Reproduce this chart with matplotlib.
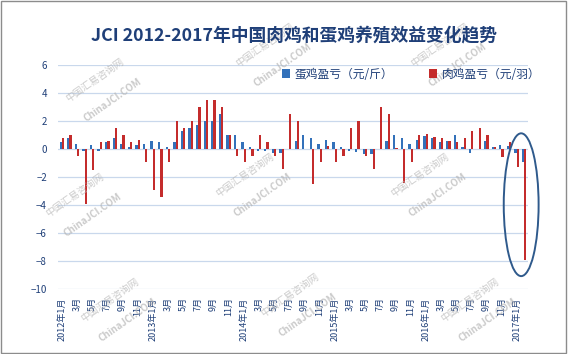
import numpy as np
import matplotlib
matplotlib.use('Agg')
import matplotlib.pyplot as plt
from matplotlib.patches import Ellipse, Rectangle

plt.rcParams['font.family'] = ['Noto Sans CJK SC', 'DejaVu Sans']

# 2012年1月 - 2017年2月, 每月数据
egg = [0.52, 0.8, 0.33, -0.16, 0.3, -0.16, 0.52, 0.8, 0.38, 0.16, 0.3, 0.38,
       0.6, 0.52, 0.16, 0.52, 1.3, 1.5, 1.72, 2.0, 2.0, 2.5, 1.03, 1.03,
       0.52, 0.16, -0.16, -0.12, -0.26, -0.26, 0.0, 0.6, 1.03, 0.8, 0.38, 0.66,
       0.52, 0.16, -0.14, -0.19, -0.35, -0.35, 0.0, 0.6, 1.03, 0.8, 0.38, 0.66,
       0.96, 0.8, 0.52, 0.6, 1.03, 0.16, -0.3, 0.0, 0.6, 0.14, 0.3, 0.23,
       -0.3, -0.94]
broiler = [0.8, 1.03, -0.47, -3.95, -1.48, 0.52, 0.6, 1.5, 1.03, 0.52, 0.66, -0.94,
           -2.96, -3.46, -0.94, 2.0, 1.5, 2.0, 3.0, 3.48, 3.48, 3.0, 1.03, -0.47,
           -0.94, -0.47, 1.03, 0.52, -0.47, -1.45, 2.5, 2.0, 0.0, -2.48, -0.94, 0.23,
           -0.94, -0.47, 1.5, 2.0, -0.47, -1.46, 3.0, 2.5, 0.05, -2.45, -0.94, 1.03,
           1.08, 0.87, 0.8, 0.6, 0.52, 0.8, 1.3, 1.5, 1.03, 0.14, -0.54, 0.52,
           -1.3, -7.93]
tick_labels = ['2012年1月', '3月', '5月', '7月', '9月', '11月',
               '2013年1月', '3月', '5月', '7月', '9月', '11月',
               '2014年1月', '3月', '5月', '7月', '9月', '11月',
               '2015年1月', '3月', '5月', '7月', '9月', '11月',
               '2016年1月', '3月', '5月', '7月', '9月', '11月',
               '2017年1月']
legend_names = ['蛋鸡盈亏（元/斤）', '肉鸡盈亏（元/羽）']
title = 'JCI 2012-2017年中国肉鸡和蛋鸡养殖效益变化趋势'

navy = '#1F3F78'
fig = plt.figure(figsize=(5.68, 3.54), dpi=100)
ax = fig.add_axes([58/568, 1-289/354, 470/568, 224/354])

x = np.arange(len(egg))
w = 0.3
b1 = ax.bar(x - w/2, egg, w, color='#3371BA', zorder=3, label=legend_names[0])
b2 = ax.bar(x + w/2, broiler, w, color='#C42C2C', zorder=3, label=legend_names[1])

ax.set_xlim(-0.5, len(egg) - 0.5)
ax.set_ylim(-10, 6)
ax.set_yticks(range(-10, 7, 2))
ax.set_xticks(x[::2])
ax.set_xticklabels(tick_labels, rotation=90, fontsize=6.5, color=navy)
ax.tick_params(axis='y', labelsize=7, colors=navy, length=0, pad=8)
ax.tick_params(axis='x', length=0, pad=6)
ax.grid(axis='y', color='#C9D8EC', linewidth=0.9, zorder=0)
for s in ax.spines.values():
    s.set_visible(False)

# 圈出最后两个月
ax.add_patch(Ellipse((60.6, -3.98), 4.6, 10.2, fill=False, edgecolor='#2F5A8C',
                     linewidth=1.4, clip_on=False, zorder=4))

fig.text(294/568, 1-35/354, title, ha='center', va='center', fontsize=12.8,
         fontweight='bold', color=navy)
fig.legend(handles=[b1, b2], loc='center', bbox_to_anchor=(411/568, 1-74/354),
           ncol=2, frameon=False, fontsize=8.5, handlelength=0.7, handleheight=0.7,
           handletextpad=0.4, columnspacing=3.0, labelcolor=navy)

# 水印
for (wx, wy) in [(95, 80), (265, 45), (440, 45), (75, 195), (245, 175), (420, 175),
                 (110, 300), (290, 295), (470, 300)]:
    fig.text(wx/568, 1-wy/354, '中国汇易咨询网', rotation=35, fontsize=7,
             color='#B5B5B5', alpha=0.7, ha='center', va='center', zorder=0)
    fig.text((wx+18)/568, 1-(wy+20)/354, 'ChinaJCI.COM', rotation=35, fontsize=7,
             fontweight='bold', color='#B5B5B5', alpha=0.7, ha='center', va='center', zorder=0)

fig.patches.append(Rectangle((0.002, 0.003), 0.995, 0.994, transform=fig.transFigure,
                             fill=False, edgecolor='#8C8C8C', linewidth=1))

fig.savefig('out.png', dpi=100)
